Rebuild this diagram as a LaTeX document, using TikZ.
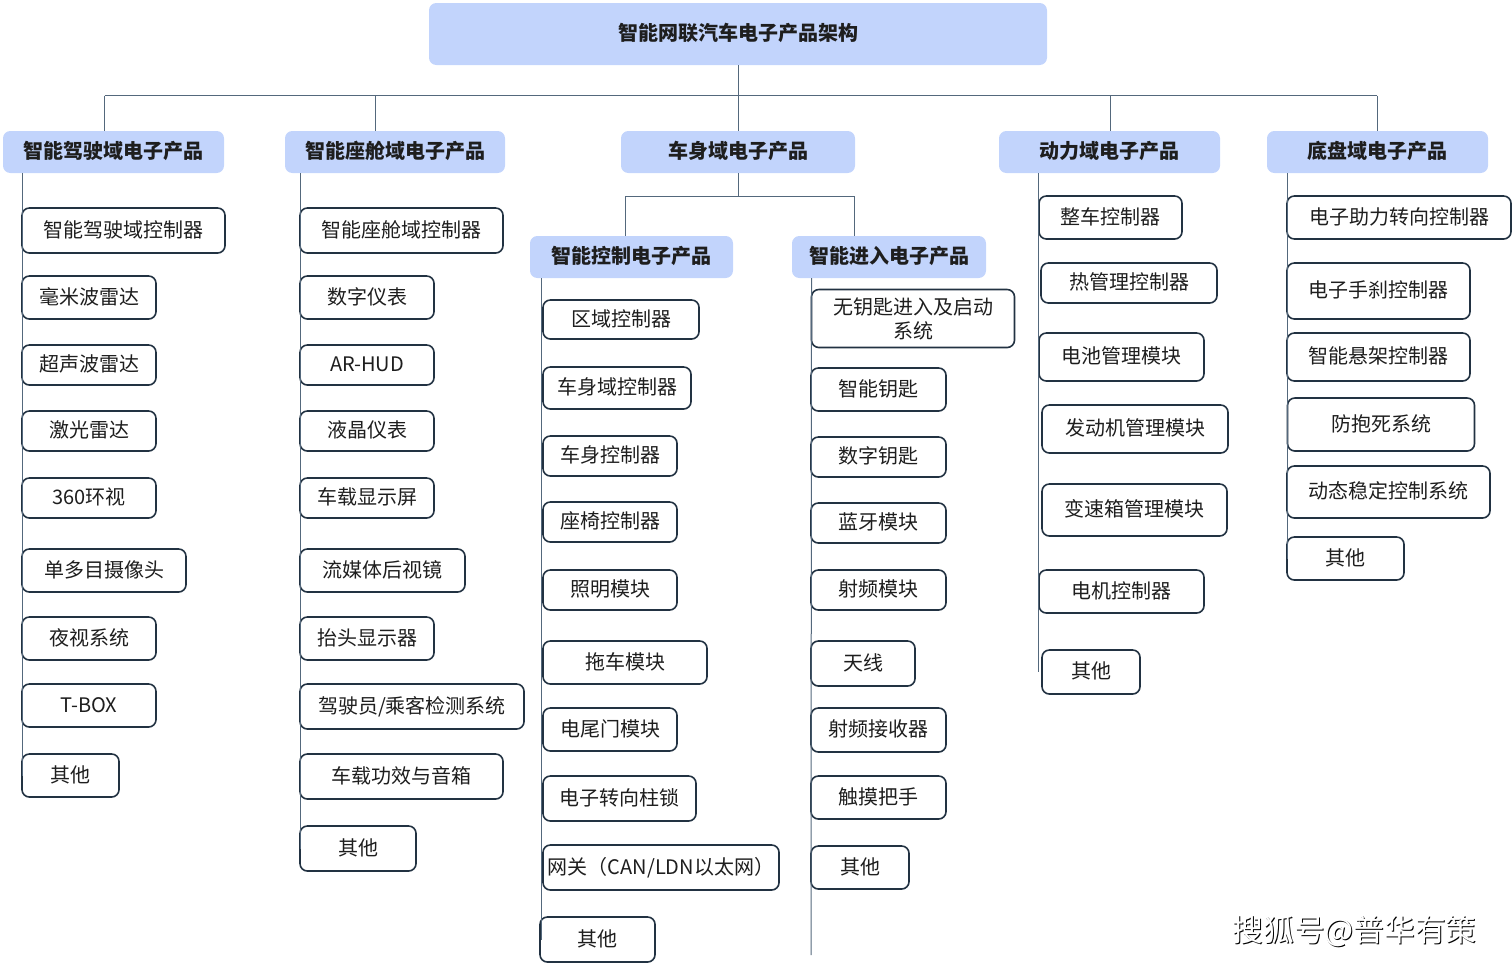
\documentclass[tikz,border=0pt]{standalone}
\usepackage{fontspec}
\setmainfont{Noto Sans CJK SC}
\definecolor{headfill}{RGB}{194,212,252}
\definecolor{boxline}{RGB}{34,50,66}
\definecolor{linkline}{RGB}{84,104,124}
\definecolor{inktext}{RGB}{30,30,30}
\begin{document}
\begin{tikzpicture}[x=0.75pt,y=-0.75pt,
  sz/.style 2 args={minimum width=#1*0.75pt,minimum height=#2*0.75pt},
  headbox/.style={fill=headfill,rounded corners=5.5pt,inner sep=0pt,outer sep=0pt,text=inktext,text height=13.2pt,text depth=2.8pt,font=\fontsize{15}{20}\selectfont\bfseries},
  itembox/.style={draw=boxline,line width=1.2pt,fill=white,rounded corners=5.5pt,inner sep=0pt,outer sep=0pt,align=center,text=inktext,text height=13.2pt,text depth=2.8pt,font=\fontsize{15}{18}\selectfont},
  link/.style={draw=linkline,line width=0.75pt},
  ]
\useasboundingbox (0,0) rectangle (1512,964);

\node[headbox,sz={618}{62}] (top) at (738,34) {智能网联汽车电子产品架构};
\node[headbox,sz={221}{42}] (drive) at (113.5,152) {智能驾驶域电子产品};
\node[headbox,sz={220}{42}] (cabin) at (395,152) {智能座舱域电子产品};
\node[headbox,sz={234}{42}] (body) at (738,152) {车身域电子产品};
\node[headbox,sz={221}{42}] (power) at (1109.5,152) {动力域电子产品};
\node[headbox,sz={221}{42}] (chassis) at (1377.5,152) {底盘域电子产品};
\node[headbox,sz={203}{42}] (control) at (631.5,257) {智能控制电子产品};
\node[headbox,sz={194}{42}] (entry) at (889,257) {智能进入电子产品};

\node[itembox,sz={203}{45}] (d1) at (123.5,230.5) {智能驾驶域控制器};
\node[itembox,sz={134}{43}] (d2) at (89,297.5) {毫米波雷达};
\node[itembox,sz={134}{40}] (d3) at (89,365) {超声波雷达};
\node[itembox,sz={134}{40}] (d4) at (89,431) {激光雷达};
\node[itembox,sz={134}{40}] (d5) at (89,498) {360环视};
\node[itembox,sz={164}{43}] (d6) at (104,570.5) {单多目摄像头};
\node[itembox,sz={134}{43}] (d7) at (89,638.5) {夜视系统};
\node[itembox,sz={134}{43}] (d8) at (89,705.5) {T-BOX};
\node[itembox,sz={97}{43}] (d9) at (70.5,775.5) {其他};

\node[itembox,sz={203}{45}] (c1) at (401.5,230.5) {智能座舱域控制器};
\node[itembox,sz={134}{43}] (c2) at (367,297.5) {数字仪表};
\node[itembox,sz={134}{40}] (c3) at (367,365) {AR-HUD};
\node[itembox,sz={134}{40}] (c4) at (367,431) {液晶仪表};
\node[itembox,sz={134}{40}] (c5) at (367,498) {车载显示屏};
\node[itembox,sz={165}{43}] (c6) at (382.5,570.5) {流媒体后视镜};
\node[itembox,sz={134}{43}] (c7) at (367,638.5) {抬头显示器};
\node[itembox,sz={224}{45}] (c8) at (412,706.5) {驾驶员/乘客检测系统};
\node[itembox,sz={203}{45}] (c9) at (401.5,776.5) {车载功效与音箱};
\node[itembox,sz={116}{45}] (c10) at (358,848.5) {其他};

\node[itembox,sz={156}{39}] (k1) at (621,319.5) {区域控制器};
\node[itembox,sz={148}{42}] (k2) at (617,388) {车身域控制器};
\node[itembox,sz={134}{40}] (k3) at (610,456) {车身控制器};
\node[itembox,sz={134}{40}] (k4) at (610,522) {座椅控制器};
\node[itembox,sz={134}{40}] (k5) at (610,590) {照明模块};
\node[itembox,sz={164}{43}] (k6) at (625,662.5) {拖车模块};
\node[itembox,sz={134}{43}] (k7) at (610,729.5) {电尾门模块};
\node[itembox,sz={153}{45}] (k8) at (619.5,798.5) {电子转向柱锁};
\node[itembox,sz={236}{45}] (k9) at (661,867.5) {网关（CAN/LDN以太网）};
\node[itembox,sz={115}{45}] (k10) at (597.5,939.5) {其他};

\node[itembox,sz={203}{58},text height=,text depth=] (e1) at (913,318.5) {无钥匙进入及启动\\系统};
\node[itembox,sz={135}{43}] (e2) at (878.5,389.5) {智能钥匙};
\node[itembox,sz={135}{40}] (e3) at (878.5,457) {数字钥匙};
\node[itembox,sz={135}{40}] (e4) at (878.5,523) {蓝牙模块};
\node[itembox,sz={135}{40}] (e5) at (878.5,590) {射频模块};
\node[itembox,sz={104}{45}] (e6) at (863,663.5) {天线};
\node[itembox,sz={135}{44}] (e7) at (878.5,730) {射频接收器};
\node[itembox,sz={135}{43}] (e8) at (878.5,797.5) {触摸把手};
\node[itembox,sz={98}{43}] (e9) at (860,867.5) {其他};

\node[itembox,sz={143}{43}] (p1) at (1110.5,217.5) {整车控制器};
\node[itembox,sz={176}{40}] (p2) at (1129,283) {热管理控制器};
\node[itembox,sz={165}{48}] (p3) at (1121.5,357) {电池管理模块};
\node[itembox,sz={186}{48}] (p4) at (1135,429) {发动机管理模块};
\node[itembox,sz={185}{52}] (p5) at (1134.5,510) {变速箱管理模块};
\node[itembox,sz={165}{43}] (p6) at (1121.5,591.5) {电机控制器};
\node[itembox,sz={98}{44}] (p7) at (1091,672) {其他};

\node[itembox,sz={224}{43}] (s1) at (1399,217.5) {电子助力转向控制器};
\node[itembox,sz={183}{56}] (s2) at (1378.5,291) {电子手刹控制器};
\node[itembox,sz={183}{48}] (s3) at (1378.5,357) {智能悬架控制器};
\node[itembox,sz={187}{53}] (s4) at (1381,424.5) {防抱死系统};
\node[itembox,sz={203}{52}] (s5) at (1388.5,492) {动态稳定控制系统};
\node[itembox,sz={117}{43}] (s6) at (1345.5,558.5) {其他};

\coordinate (busa) at (104.5,95.5);
\coordinate (busb) at (375,95.5);
\coordinate (busc) at (738.5,95.5);
\coordinate (busd) at (1110,95.5);
\coordinate (buse) at (1377,95.5);
\coordinate (fork) at (738.5,196);
\coordinate (forka) at (625.5,196);
\coordinate (forkb) at (854.5,196);
\coordinate (ktrunk) at (541,940);
\coordinate (etrunk) at (811,955);
\coordinate (ptrunk) at (1038,672);

\draw[link] (busc |- top.south) -- (busc |- body.north);
\draw[link] (busa) -- (buse);
\draw[link] (busa) -- (busa |- drive.north);
\draw[link] (busb) -- (busb |- cabin.north);
\draw[link] (busd) -- (busd |- power.north);
\draw[link] (buse) -- (buse |- chassis.north);
\draw[link] (fork |- body.south) -- (fork);
\draw[link] (forka) -- (forkb);
\draw[link] (forka) -- (forka |- control.north);
\draw[link] (forkb) -- (forkb |- entry.north);

\draw[link] (d1.west |- drive.south) -- (d9.west);
\draw[link] (c1.west |- cabin.south) -- (c10.west);
\draw[link] (ktrunk |- control.south) -- (ktrunk);
\draw[link] (e1.west |- entry.south) -- (etrunk);
\draw[link] (ptrunk |- power.south) -- (ptrunk);
\draw[link] (s1.west |- chassis.south) -- (s6.west);

\node[inner sep=0pt,text=black,font=\fontsize{23}{28}\selectfont] (markshade) at (1355.5,932.5) {搜狐号@普华有策};
\node[inner sep=0pt,text=white,font=\fontsize{23}{28}\selectfont] (mark) at (1354.5,931.5) {搜狐号@普华有策};
\end{tikzpicture}
\end{document}
